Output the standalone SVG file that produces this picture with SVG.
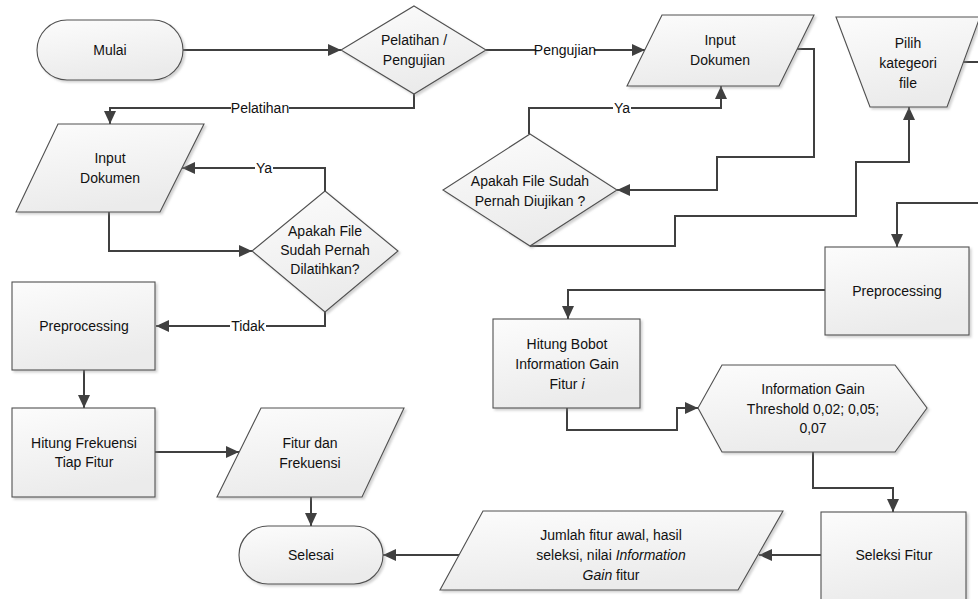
<svg xmlns="http://www.w3.org/2000/svg" width="978" height="599" viewBox="0 0 978 599">
<defs>
<linearGradient id="g" x1="0" y1="0" x2="0.3" y2="1">
<stop offset="0" stop-color="#fcfcfc"/>
<stop offset="1" stop-color="#ebebeb"/>
</linearGradient>
<filter id="sh" x="-10%" y="-10%" width="125%" height="125%">
<feDropShadow dx="2" dy="2" stdDeviation="1" flood-color="#909090" flood-opacity="0.4"/>
</filter>
<marker id="ar" markerUnits="userSpaceOnUse" markerWidth="14" markerHeight="12" refX="13" refY="6" orient="auto">
<path d="M0,0 L13,6 L0,12 Z" fill="#404040"/>
</marker>
</defs>
<style>
.n{fill:url(#g);stroke:#505050;stroke-width:1.1;filter:url(#sh)}
.c{fill:none;stroke:#404040;stroke-width:2}
.a{marker-end:url(#ar)}
text{font-family:"Liberation Sans",Arial,sans-serif;font-size:14px;fill:#111;text-anchor:middle;dominant-baseline:central}
.lb{fill:#fff}
</style>

<g id="connectors">
<path class="c a" d="M183,50 H341"/>
<path class="c a" d="M486,50 H645"/>
<path class="c a" d="M414,94 V108 H110 V124"/>
<path class="c a" d="M109,212 V251 H252"/>
<path class="c a" d="M325,191 V168 H182"/>
<path class="c a" d="M325,312 V326 H156"/>
<path class="c a" d="M84,370 V408"/>
<path class="c a" d="M155,452 H239"/>
<path class="c a" d="M311,497 V526"/>
<path class="c a" d="M460,555 H383"/>
<path class="c a" d="M821,555 H759"/>
<path class="c a" d="M813,452 V488 H893 V512"/>
<path class="c a" d="M567,408 V430 H677 V408 H698"/>
<path class="c a" d="M825,290 H568 V319"/>
<path class="c a" d="M980,203 H897 V247"/>
<path class="c" d="M963,62 H980"/>
<path class="c a" d="M530,246 H675 V216 H856 V162 H909 V107"/>
<path class="c a" d="M797,49 H814 V157 H717 V190 H617"/>
<path class="c a" d="M529,134 V108 H721 V86"/>
<rect class="lb" x="536" y="42" width="58" height="16"/>
<text x="565" y="50">Pengujian</text>
<rect class="lb" x="231" y="100" width="58" height="16"/>
<text x="260" y="108">Pelatihan</text>
<rect class="lb" x="255" y="160" width="18" height="16"/>
<text x="264" y="168">Ya</text>
<rect class="lb" x="230" y="318" width="36" height="16"/>
<text x="248" y="326">Tidak</text>
<rect class="lb" x="613" y="100" width="18" height="16"/>
<text x="622" y="108">Ya</text>
</g>

<g id="mulai">
<rect class="n" x="37" y="20" width="146" height="60" rx="30"/>
<text x="110" y="50">Mulai</text>
</g>
<g id="pilihan">
<polygon class="n" points="414,6 486,50 414,94 341,50"/>
<text x="414" y="40">Pelatihan /</text>
<text x="414" y="60">Pengujian</text>
</g>
<g id="input1">
<polygon class="n" points="58,124 204,124 160,212 16,212"/>
<text x="110" y="158">Input</text>
<text x="110" y="178">Dokumen</text>
</g>
<g id="dilatih">
<polygon class="n" points="325,191 398,251 325,312 252,251"/>
<text x="325" y="231">Apakah File</text>
<text x="325" y="250">Sudah Pernah</text>
<text x="325" y="269">Dilatihkan?</text>
</g>
<g id="preproc1">
<rect class="n" x="12" y="282" width="143" height="88"/>
<text x="84" y="326">Preprocessing</text>
</g>
<g id="hitungfrek">
<rect class="n" x="12" y="408" width="143" height="89"/>
<text x="84" y="443">Hitung Frekuensi</text>
<text x="84" y="462">Tiap Fitur</text>
</g>
<g id="fiturfrek">
<polygon class="n" points="261,408 404,408 362,497 217,497"/>
<text x="310" y="443">Fitur dan</text>
<text x="310" y="463">Frekuensi</text>
</g>
<g id="selesai">
<rect class="n" x="239" y="526" width="144" height="58" rx="29"/>
<text x="311" y="555">Selesai</text>
</g>
<g id="input2">
<polygon class="n" points="662,15 814,15 779,86 627,86"/>
<text x="720" y="40">Input</text>
<text x="720" y="60">Dokumen</text>
</g>
<g id="diuji">
<polygon class="n" points="530,134 617,190 530,246 443,190"/>
<text x="530" y="181">Apakah File Sudah</text>
<text x="530" y="201">Pernah Diujikan ?</text>
</g>
<g id="pilihkat">
<polygon class="n" points="836,17 980,17 947,107 870,107"/>
<text x="908" y="43">Pilih</text>
<text x="908" y="63">kategeori</text>
<text x="908" y="83">file</text>
</g>
<g id="preproc2">
<rect class="n" x="825" y="247" width="144" height="88"/>
<text x="897" y="291">Preprocessing</text>
</g>
<g id="hitungbobot">
<rect class="n" x="493" y="319" width="147" height="89"/>
<text x="567" y="344">Hitung Bobot</text>
<text x="567" y="364">Information Gain</text>
<text x="567" y="384">Fitur <tspan font-style="italic">i</tspan></text>
</g>
<g id="threshold">
<polygon class="n" points="698,408 722,365 895,365 927,408 895,452 722,452"/>
<text x="813" y="389">Information Gain</text>
<text x="813" y="409">Threshold 0,02; 0,05;</text>
<text x="813" y="428">0,07</text>
</g>
<g id="seleksi">
<rect class="n" x="821" y="512" width="145" height="92"/>
<text x="894" y="555">Seleksi Fitur</text>
</g>
<g id="jumlah">
<polygon class="n" points="483,511 783,511 738,590 440,590"/>
<text x="611" y="535">Jumlah fitur awal, hasil</text>
<text x="611" y="555">seleksi, nilai <tspan font-style="italic">Information</tspan></text>
<text x="611" y="575"><tspan font-style="italic">Gain</tspan> fitur</text>
</g>
</svg>
